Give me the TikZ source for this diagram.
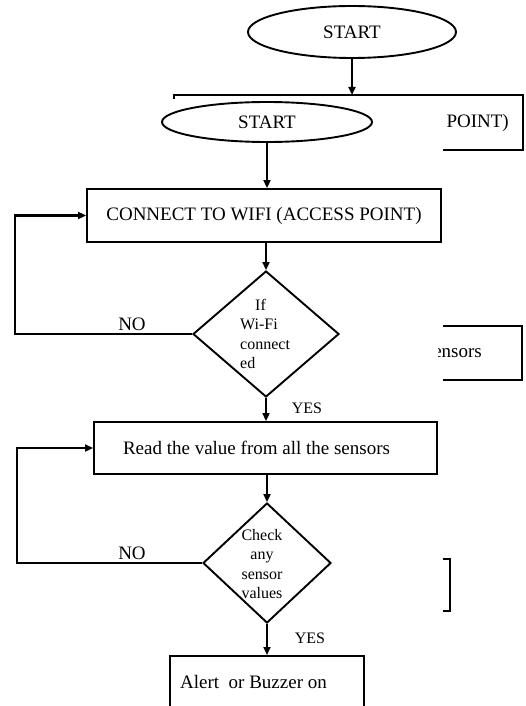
\documentclass[tikz,border=0pt]{standalone}
\usepackage{fontspec}
\setmainfont{Liberation Serif}
\usetikzlibrary{shapes.geometric,arrows.meta}
\begin{document}
\begin{tikzpicture}[x=1pt,y=-1pt,
  shapeline/.style={draw=black,line width=1.9pt},
  bigtext/.style={font=\fontsize{19}{22}\selectfont,inner sep=0pt},
  smalltext/.style={font=\fontsize{16}{19.5}\selectfont,inner sep=0pt},
  boxnode/.style={shapeline,rectangle,inner sep=0pt},
  ovalnode/.style={shapeline,ellipse,inner sep=0pt},
  decision/.style={shapeline,diamond,inner sep=0pt},
  flow/.style={draw=black,line width=2.4pt,-{Triangle[length=8pt,width=7pt]}},
  plainline/.style={draw=black,line width=2pt}]
\useasboundingbox (0,0) rectangle (525,706);
\clip (0,0) rectangle (525,706);
\fill[white] (0,0) rectangle (525,706);

% remnant layer at top
\node[ovalnode,bigtext,minimum width=208pt,minimum height=52pt] (start1) at (352,32) {START};
\coordinate (r1top) at (352,95);
\draw[plainline] (174,99) -- (174,95) -- (523,95) -- (523,150) -- (443,150);
\node[bigtext,anchor=east] (pointt) at (509,123) {POINT)};
\draw[flow] (start1.south) -- (r1top);

% main flow
\node[ovalnode,bigtext,minimum width=210pt,minimum height=40pt] (start2) at (267,122) {START};
\node[boxnode,bigtext,minimum width=354pt,minimum height=53pt] (connect) at (264,215.5) {CONNECT TO WIFI (ACCESS POINT)};
\draw[flow] (start2.south) -- (start2.south |- connect.north);

\node[decision,minimum width=146pt,minimum height=126pt] (d1) at (266,334) {};
\node[smalltext,align=left,anchor=west] (d1t) at (240,334) {\hspace*{15pt}If\\Wi-Fi\\connect\\ed};
\draw[flow] (d1.north |- connect.south) -- (d1.north);
\coordinate (l1) at (15,334);
\draw[flow] (d1.west) -- (l1) |- (connect.west);
\node[bigtext] (no1) at (132,324) {NO};

% remnant sensors box
\draw[plainline] (443,326) -- (522,326) -- (522,380) -- (443,380);
\begin{scope}
\clip (438,330) rectangle (520,376);
\node[bigtext,anchor=east] (sensorst) at (482,353) {sensors};
\end{scope}

\node[smalltext] (yes1) at (307,408) {YES};
\node[boxnode,bigtext,minimum width=343pt,minimum height=52pt] (read) at (265.5,448) {Read the value from all the sensors\hspace*{18pt}};
\draw[flow] (d1.south) -- (d1.south |- read.north);

\node[decision,minimum width=128pt,minimum height=120pt] (d2) at (267,563) {};
\node[smalltext,align=center] (d2t) at (262,564) {Check\\any\\sensor\\values};
\draw[flow] (d2.north |- read.south) -- (d2.north);
\coordinate (l2) at (17,563);
\draw[flow] (d2.west) -- (l2) |- (read.west);
\node[bigtext] (no2) at (132,553) {NO};

% remnant bracket
\draw[plainline] (443,559) -- (450,559) -- (450,611) -- (443,611);

\node[smalltext] (yes2) at (310,638) {YES};
\node[boxnode,minimum width=194pt,minimum height=70pt,anchor=north] (alert) at (267,655) {};
\node[bigtext,anchor=west] (alertt) at (180,682) {Alert\ \ or Buzzer on};
\draw[flow] (d2.south) -- (d2.south |- alert.north);
\end{tikzpicture}
\end{document}
